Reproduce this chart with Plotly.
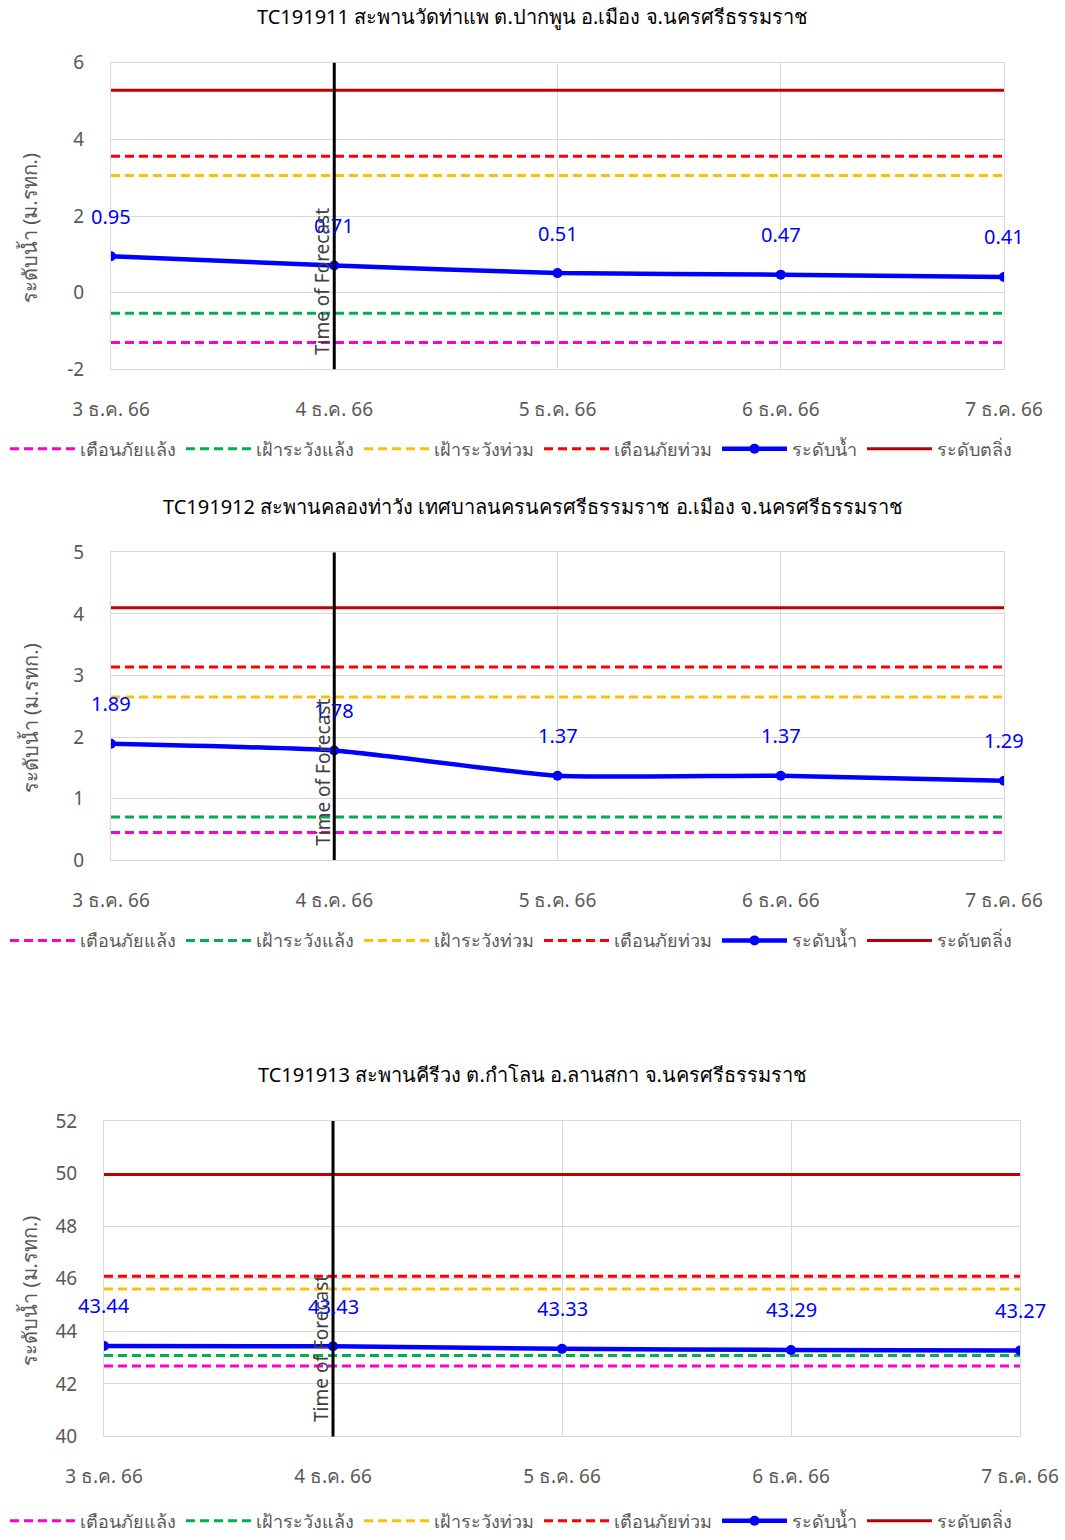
import plotly.graph_objects as go

categories = ["3 ธ.ค. 66", "4 ธ.ค. 66", "5 ธ.ค. 66", "6 ธ.ค. 66", "7 ธ.ค. 66"]
forecast_time = "4 ธ.ค. 66"

titles = [
    "TC191911 สะพานวัดท่าแพ ต.ปากพูน อ.เมือง จ.นครศรีธรรมราช",
    "TC191912 สะพานคลองท่าวัง เทศบาลนครนครศรีธรรมราช อ.เมือง จ.นครศรีธรรมราช",
    "TC191913 สะพานคีรีวง ต.กำโลน อ.ลานสกา จ.นครศรีธรรมราช",
]
y_title = "ระดับน้ำ (ม.รทก.)"

# water level (ระดับน้ำ)
level_1 = [0.95, 0.71, 0.51, 0.47, 0.41]
level_2 = [1.89, 1.78, 1.37, 1.37, 1.29]
level_3 = [43.44, 43.43, 43.33, 43.29, 43.27]

# thresholds: drought warning, drought watch, flood watch, flood warning, bank level
drought_warn = [-1.30, 0.45, 42.68]
drought_watch = [-0.54, 0.70, 43.08]
flood_watch = [3.06, 2.65, 45.61]
flood_warn = [3.56, 3.14, 46.09]
bank = [5.28, 4.10, 49.96]

# y-axis ticks per chart
y_ticks_1 = [-2, 0, 2, 4, 6]
y_ticks_2 = [0, 1, 2, 3, 4, 5]
y_ticks_3 = [40, 42, 44, 46, 48, 50, 52]

names = ["เตือนภัยแล้ง", "เฝ้าระวังแล้ง", "เฝ้าระวังท่วม", "เตือนภัยท่วม", "ระดับน้ำ", "ระดับตลิ่ง"]

W, H = 1065, 1540
FONT = "Noto Sans, Tahoma, sans-serif"
GRAY = "#595959"

# layout geometry (pixels)
plots = [
    dict(x0=111, x1=1004, y0=63, y1=371, title_y=17, legend_y=451),
    dict(x0=111, x1=1004, y0=555, y1=864, title_y=509, legend_y=945),
    dict(x0=104, x1=1020, y0=1126, y1=1443, title_y=1079, legend_y=1528),
]

levels = [level_1, level_2, level_3]
y_ticks = [y_ticks_1, y_ticks_2, y_ticks_3]

fig = go.Figure()
annotations = []
shapes = []

for i in range(3):
    ax = "" if i == 0 else str(i + 1)
    xa, ya = "x" + ax, "y" + ax
    lg = "legend" if i == 0 else "legend" + str(i + 1)
    n = len(categories)
    specs = [
        (names[0], [drought_warn[i]] * n, "#FF00CC"),
        (names[1], [drought_watch[i]] * n, "#00B050"),
        (names[2], [flood_watch[i]] * n, "#FFC000"),
        (names[3], [flood_warn[i]] * n, "#FF0000"),
    ]
    for nm, vals, col in specs:
        fig.add_trace(go.Scatter(x=categories, y=vals, mode="lines", name=nm,
                                 line=dict(color=col, dash="9px,5px", width=3),
                                 xaxis=xa, yaxis=ya, legend=lg, hoverinfo="skip"))
    fig.add_trace(go.Scatter(x=categories, y=levels[i], mode="lines+markers", name=names[4],
                             line=dict(color="#0000FF", width=4.5, shape="spline", smoothing=0.5),
                             marker=dict(size=10, color="#0000FF"),
                             xaxis=xa, yaxis=ya, legend=lg))
    fig.add_trace(go.Scatter(x=categories, y=[bank[i]] * n, mode="lines", name=names[5],
                             line=dict(color="#C00000", width=3),
                             xaxis=xa, yaxis=ya, legend=lg, hoverinfo="skip"))

    p = plots[i]
    xdom = [p["x0"] / W, p["x1"] / W]
    ydom = [1 - p["y1"] / H, 1 - p["y0"] / H]
    tv = y_ticks[i]
    fig.update_layout(**{
        "xaxis" + ax: dict(domain=xdom, anchor=ya, type="category", range=[0, 4],
                           automargin=False,
                           showgrid=True, gridcolor="#D9D9D9", gridwidth=1,
                           showline=True, mirror=True, linecolor="#D9D9D9",
                           ticks="", ticklabelstandoff=23,
                           tickfont=dict(size=19, color=GRAY, family=FONT)),
        "yaxis" + ax: dict(domain=ydom, anchor=xa, range=[tv[0], tv[-1]],
                           tickmode="array", tickvals=tv, ticktext=[str(v) for v in tv],
                           automargin=False,
                           showgrid=True, gridcolor="#D9D9D9", gridwidth=1,
                           zeroline=False, showline=True, mirror=True, linecolor="#D9D9D9",
                           ticks="", ticklabelstandoff=22,
                           tickfont=dict(size=19, color=GRAY, family=FONT)),
        lg: dict(orientation="h", x=5 / W, xanchor="left", y=1 - p["legend_y"] / H,
                 yanchor="middle", font=dict(size=18, color=GRAY, family=FONT),
                 itemwidth=65, bgcolor="rgba(0,0,0,0)", tracegroupgap=0),
    })
    # chart title
    annotations.append(dict(text=titles[i], x=0.5, y=1 - p["title_y"] / H, xref="paper", yref="paper",
                            showarrow=False, xanchor="center", yanchor="middle",
                            font=dict(size=20, color="#000000", family=FONT)))
    # y axis title
    annotations.append(dict(text=y_title, x=30 / W, y=1 - ((p["y0"] + p["y1"]) / 2 + 12) / H,
                            xref="paper", yref="paper", textangle=-90, showarrow=False,
                            xanchor="center", yanchor="middle",
                            font=dict(size=20, color=GRAY, family=FONT)))
    # data labels
    for c, v in zip(categories, levels[i]):
        annotations.append(dict(text=f"{v:.2f}", x=c, y=v, xref=xa, yref=ya, showarrow=False,
                                yshift=40, font=dict(size=20, color="#0000FF", family=FONT)))
    # forecast line
    shapes.append(dict(type="line", x0=forecast_time, x1=forecast_time, xref=xa,
                       y0=0, y1=1, yref=ya + " domain", line=dict(color="#000000", width=3)))
    annotations.append(dict(text="Time of Forecast", x=forecast_time, xref=xa, y=0, yref=ya + " domain",
                            textangle=-90, xanchor="right", yanchor="bottom", xshift=3, yshift=12,
                            showarrow=False, font=dict(size=19, color="#404040", family=FONT)))

fig.update_layout(width=W, height=H, margin=dict(l=0, r=0, t=0, b=0),
                  paper_bgcolor="white", plot_bgcolor="white",
                  annotations=annotations, shapes=shapes, showlegend=True)

fig.write_html("out.html", config={"displayModeBar": False},
               post_script="document.body.style.margin='0';")
